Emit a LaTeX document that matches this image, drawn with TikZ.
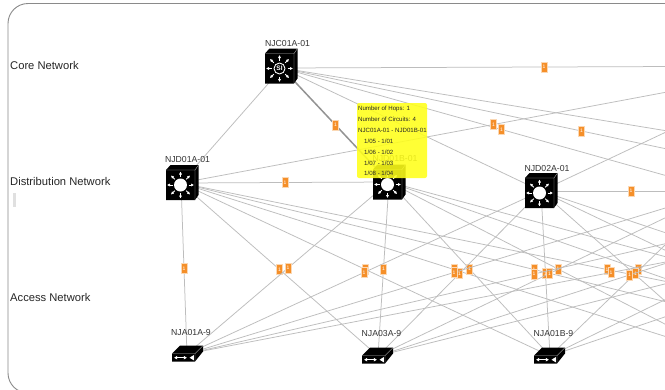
\documentclass[tikz,border=0pt]{standalone}
\usepackage{fontspec}
\setmainfont{Liberation Sans}
\usetikzlibrary{arrows.meta}
\definecolor{linkc}{HTML}{BDBDBD}
\definecolor{badgec}{HTML}{F58F29}
\definecolor{framec}{HTML}{8A8A8A}
\definecolor{labelc}{HTML}{333333}
\definecolor{tipc}{HTML}{FFFF1A}
\tikzset{
  x=1pt,y=-1pt,
  link/.style={draw=linkc,line width=.75pt},
  heavylink/.style={draw=gray!85,line width=1.5pt},
  badge/.style={fill=badgec,draw=badgec!35,line width=.4pt,text=white,minimum width=6pt,minimum height=10pt,inner sep=0pt,font=\fontsize{5}{5}\selectfont},
  hostlabel/.style={font=\fontsize{8.7}{10}\selectfont,text=labelc,inner sep=0pt},
  tierlabel/.style={font=\fontsize{11.2}{12}\selectfont,text=black!85,inner sep=0pt,anchor=west},
  tiptext/.style={font=\fontsize{6.1}{7}\selectfont,text=black!85,inner sep=0pt,anchor=west},
  pics/mls/.style={code={
    \fill[black] (-14.5,-15) -- (-10,-20) -- (18,-20) -- (18,10) -- (14.5,15) -- (-14.5,15) -- cycle;
    \draw[white!70!black,line width=.35pt] (-14.5,-15) -- (14.5,-15) -- (14.5,15) (14.5,-15) -- (18,-20);
    \fill[white] (0,0) circle (6.5);
    \foreach \a in {0,45,...,315}{
      \draw[white,line width=1pt,-{Latex[length=3pt,width=3.2pt]}] (\a:8) -- (\a:13.5);
    }
  }},
  pics/mlssi/.style={code={
    \fill[black] (-14.5,-15) -- (-10,-20) -- (18,-20) -- (18,10) -- (14.5,15) -- (-14.5,15) -- cycle;
    \draw[white!70!black,line width=.35pt] (-14.5,-15) -- (14.5,-15) -- (14.5,15) (14.5,-15) -- (18,-20);
    \draw[white,line width=.9pt] (0,0) circle (5.5);
    \node[text=white,inner sep=0pt,font=\fontsize{6.5}{6.5}\selectfont\bfseries] (si) at (0,0) {SI};
    \foreach \a in {0,45,...,315}{
      \draw[white,line width=1pt,-{Latex[length=3pt,width=3.2pt]}] (\a:8) -- (\a:13.5);
    }
  }},
  pics/acc/.style={code={
    \fill[black] (0,0) -- (0,-5) -- (8,-13) -- (31,-13) -- (31,-7) -- (23,3) -- (0,3) -- cycle;
    \draw[white!70!black,line width=.35pt] (0,-5) -- (23,-5) -- (23,3) (23,-5) -- (31,-13);
    \draw[white,line width=1.1pt,{Latex[length=3.2pt,width=4pt]}-{Latex[length=3.2pt,width=4pt]}] (2,-.8) -- (15,-.8);
    \fill[white] (17.5,-.8) -- (21.8,-3.4) -- (21.8,1.8) -- cycle;
  }},
}
\begin{document}
\begin{tikzpicture}
\useasboundingbox (0,0) rectangle (665,389);
\fill[white] (0,0) rectangle (665,389);
\begin{scope}
\clip (0,0) rectangle (665,389);
\draw[draw=framec,line width=.9pt,rounded corners=20pt] (8,3.5) rectangle (700,393);

% network positions (some lie beyond the right edge)
\coordinate (c1) at (282,68);
\coordinate (c2) at (806,66);
\coordinate (d1) at (181,183);
\coordinate (d2) at (389,182);
\coordinate (d3) at (541,191);
\coordinate (d4) at (721,191);
\coordinate (d5) at (881,194);
\coordinate (d6) at (1035,191);
\coordinate (a1) at (187,354);
\coordinate (a2) at (378,356);
\coordinate (a3) at (550,356);
\coordinate (a4) at (727,356);
\coordinate (a5) at (887,356);
\coordinate (a6) at (1033,356);

\path[link] (c1) -- (d1);
\path[heavylink] (c1) -- node[badge,pos=.5] (bb1) {1} (d2);
\path[link] (c1) -- node[badge,pos=.5] (bb2) {1} (c2);
\path[link] (c1) -- (d3);
\path[link] (c1) -- node[badge,pos=.5] (bb4) {1} (d4);
\path[link] (c1) -- node[badge,pos=.5] (bb5) {1} (d5);
\path[link] (c1) -- (d6);
\path[link] (c2) -- node[badge,pos=.5] (bb6) {1} (d1);
\path[link] (c2) -- (d3);
\path[link] (d1) -- node[badge,pos=.5] (bb7) {1} (d2);
\path[link] (d3) -- node[badge,pos=.5] (bb8) {1} (d4);

% links whose midpoint badge is inside the view
\foreach \d/\a in {d1/a1,d1/a2,d1/a3,d1/a4,d1/a5,d1/a6,
                   d2/a1,d2/a2,d2/a3,d2/a4,d2/a5,
                   d3/a1,d3/a2,d3/a3,d3/a4,
                   d4/a1,d4/a2,d4/a3,
                   d5/a1,d5/a2,
                   d6/a1}{
  \path[link] (\d) -- node[badge,pos=.5] (bm\d\a) {1} (\a);
}
% links whose midpoint lies beyond the right edge
\foreach \d/\a in {d2/a6,d3/a5,d3/a6,d4/a4,d4/a5,d4/a6,d5/a3,d5/a4,d5/a5,d5/a6,d6/a2,d6/a3,d6/a4,d6/a5,d6/a6}{
  \path[link] (\d) -- (\a);
}
\end{scope}

\node[tierlabel] (tcore) at (10,65) {Core Network};
\node[tierlabel] (tdist) at (10,181) {Distribution Network};
\node[tierlabel] (tacc) at (10,297) {Access Network};
\fill[black!12] (13,193) rectangle (16,207);

\pic at (279.5,68.5) {mlssi};
\pic at (180.5,185) {mls};
\pic at (387.5,184.5) {mls};
\pic at (539.5,193) {mls};
\pic at (172,358.5) {acc};
\pic at (362,360.5) {acc};
\pic at (534,360.5) {acc};

\node[hostlabel] (lc1) at (287.5,44) {NJC01A-01};
\node[hostlabel] (ld1) at (187.5,159.5) {NJD01A-01};
\node[hostlabel] (ld2) at (395,159) {NJD01B-01};
\node[hostlabel] (ld3) at (547,168.5) {NJD02A-01};
\node[hostlabel] (la1) at (191,332) {NJA01A-9};
\node[hostlabel] (la2) at (381.5,333) {NJA03A-9};
\node[hostlabel] (la3) at (553.5,333) {NJA01B-9};

\fill[tipc,fill opacity=.88,rounded corners=2pt] (357,103) rectangle (427,178);
\node[tiptext] (t1) at (358,108.5) {Number of Hops: 1};
\node[tiptext] (t2) at (358,119) {Number of Circuits: 4};
\node[tiptext] (t3) at (358,130) {NJC01A-01 - NJD01B-01};
\node[tiptext] (t4) at (364,141) {1/05 - 1/01};
\node[tiptext] (t5) at (364,152) {1/06 - 1/02};
\node[tiptext] (t6) at (364,163) {1/07 - 1/03};
\node[tiptext] (t7) at (364,173.5) {1/08 - 1/04};
\end{tikzpicture}
\end{document}
